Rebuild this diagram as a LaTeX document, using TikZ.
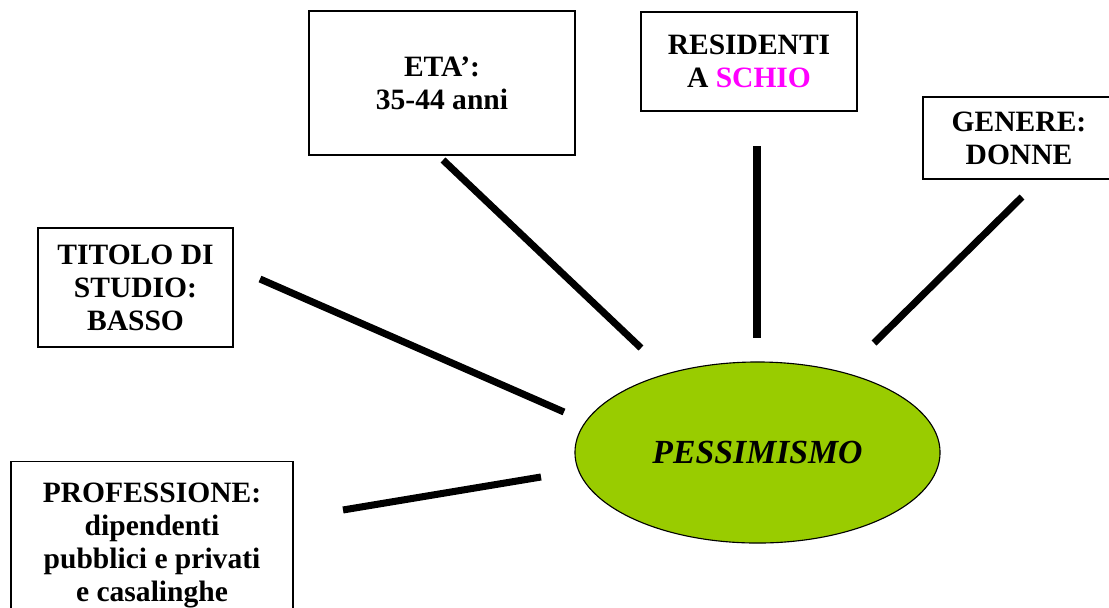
\documentclass[tikz,border=0pt]{standalone}
\usepackage{fontspec}
\setmainfont{Liberation Serif}
\usepackage{xcolor}
\usepackage{tikz}
\usetikzlibrary{shapes.geometric}
\definecolor{verdepess}{RGB}{153,204,0}
\definecolor{fucsia}{RGB}{255,0,255}

\begin{document}
\begin{tikzpicture}[x=0.025cm, y=-0.025cm,
    riquadro/.style={draw, line width=1pt, align=center, inner sep=0pt,
        font=\fontsize{21}{23.5}\selectfont\bfseries},
    legame/.style={line width=5pt}]

    \useasboundingbox (0,0) rectangle (1109,607);

    % Nodo centrale
    \node[ellipse, draw, line width=0.8pt, fill=verdepess, inner sep=0pt,
        minimum width=9.125cm, minimum height=4.525cm,
        font=\fontsize{24}{28}\selectfont\bfseries\itshape] (pess) at (757.5,452.5) {PESSIMISMO};

    % Riquadri
    \node[riquadro, minimum width=6.65cm, minimum height=3.6cm] (eta) at (442,83) {ETA’:\\35-44 anni};
    \node[riquadro, minimum width=5.4cm, minimum height=2.475cm] (res) at (749,61.5) {RESIDENTI\\A \textcolor{fucsia}{SCHIO}};
    \node[riquadro, minimum width=4.8cm, minimum height=2.05cm] (gen) at (1019,138) {GENERE:\\DONNE};
    \node[riquadro, minimum width=4.875cm, minimum height=2.975cm] (tit) at (135.5,287.5) {TITOLO DI\\STUDIO:\\BASSO};
    \node[riquadro, minimum width=7.05cm, inner ysep=15pt, anchor=north] (prof) at (152,461)
        {PROFESSIONE:\\dipendenti\\pubblici e privati\\e casalinghe};

    % Estremi dei legami
    \coordinate (eta1) at (443,160);  \coordinate (eta2) at (641,348);
    \coordinate (res1) at (757,146);  \coordinate (res2) at (757,338);
    \coordinate (gen1) at (1022,197); \coordinate (gen2) at (874,343);
    \coordinate (tit1) at (260,279);  \coordinate (tit2) at (564,412);
    \coordinate (prof1) at (343,510); \coordinate (prof2) at (541,477);

    % Legami
    \draw[legame] (eta1) -- (eta2);
    \draw[legame] (res1) -- (res2);
    \draw[legame] (gen1) -- (gen2);
    \draw[legame] (tit1) -- (tit2);
    \draw[legame] (prof1) -- (prof2);
\end{tikzpicture}
\end{document}
